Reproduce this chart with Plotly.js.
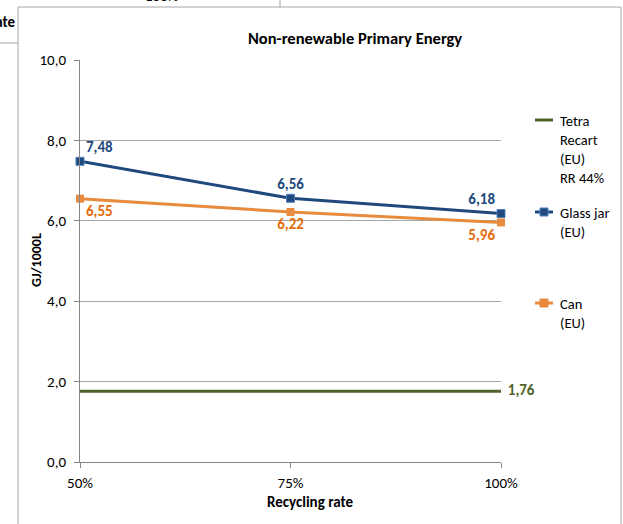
<!DOCTYPE html>
<html><head><meta charset="utf-8">
<script src="https://cdn.plot.ly/plotly-3.0.1.min.js"></script>
<style>html,body{margin:0;padding:0;background:#fff}</style>
</head><body><div id="chart" style="width:623px;height:524px"></div>
<script>
const categories = [50, 75, 100];
const categoryLabels = ['50%', '75%', '100%'];
const tetraRecart = [1.76, 1.76, 1.76];
const glassJar = [7.48, 6.56, 6.18];
const can = [6.55, 6.22, 5.96];
const legendNames = ['Tetra<br>Recart<br>(EU)<br>RR 44%', 'Glass jar<br>(EU)', 'Can<br>(EU)'];

const fmt = v => v.toFixed(2).replace('.', ',');
const FONT = 'Carlito, Lato, sans-serif';
const BLUE = '#1F497D', ORANGE = '#E46C0A', GREEN = '#4F6228';

// pixel -> paper helpers (plot area 80..501 x, 60..462 y)
const L = 80, R = 122, T = 60, B = 62, W = 623, H = 524;
const pw = W - L - R, ph = H - T - B;
const px = x => (x - L) / pw;
const py = y => (H - B - y) / ph;

const LBL = {size: 15, family: FONT, weight: 'bold'};
const traces = [
  {x: categories, y: tetraRecart, mode: 'lines+text', line: {color: GREEN, width: 3},
   text: tetraRecart.map((v, i) => i === tetraRecart.length - 1 ? '\u00a0\u00a0' + fmt(v) : ''),
   textposition: 'middle right', textfont: Object.assign({color: GREEN}, LBL),
   cliponaxis: false, showlegend: false, hoverinfo: 'none'},
  {x: categories, y: glassJar, mode: 'lines+markers+text', line: {color: BLUE, width: 3},
   marker: {symbol: 'square', size: 8, color: BLUE, line: {color: '#4F81BD', width: 1}},
   text: glassJar.map(fmt), textposition: ['top right', 'top center', 'top left'],
   textfont: Object.assign({color: BLUE}, LBL),
   cliponaxis: false, showlegend: false, hoverinfo: 'none'},
  {x: categories, y: can, mode: 'lines+markers+text', line: {color: '#E98B3E', width: 3},
   marker: {symbol: 'square', size: 8, color: '#E98B3E'},
   text: can.map(fmt), textposition: ['bottom right', 'bottom center', 'bottom left'],
   textfont: Object.assign({color: ORANGE}, LBL),
   cliponaxis: false, showlegend: false, hoverinfo: 'none'}
];

const legendColors = [GREEN, BLUE, '#E98B3E'];
const legendY = [120, 212, 303];
const shapes = [
  {type: 'rect', xref: 'paper', yref: 'paper', x0: px(18), x1: px(621), y0: py(7), y1: py(540),
   line: {color: '#A6A6A6', width: 1}, fillcolor: 'rgba(0,0,0,0)', layer: 'below'},
  {type: 'line', xref: 'paper', yref: 'paper', x0: px(0), x1: px(18), y0: py(43), y1: py(43), line: {color: '#A6A6A6', width: 1}},
  {type: 'line', xref: 'paper', yref: 'paper', x0: px(280), x1: px(280), y0: py(0), y1: py(7), line: {color: '#A6A6A6', width: 1}}
];
legendY.forEach((y, i) => {
  shapes.push({type: 'line', xref: 'paper', yref: 'paper', x0: px(535), x1: px(553), y0: py(y), y1: py(y),
               line: {color: legendColors[i], width: 3}});
  if (i > 0) shapes.push({type: 'rect', xref: 'paper', yref: 'paper', x0: px(540), x1: px(548), y0: py(y - 4), y1: py(y + 4),
               fillcolor: legendColors[i], line: {color: i === 1 ? '#4F81BD' : legendColors[i], width: 1}});
});

const ann = (text, x, y, size, extra) => Object.assign({text: text, xref: 'paper', yref: 'paper', x: px(x), y: py(y),
  xanchor: 'center', yanchor: 'middle', showarrow: false, font: {size: size, family: FONT, color: '#000'}}, extra || {});
const annotations = [
  ann('<b>Non-renewable Primary Energy</b>', 355, 38, 16.5),
  ann('<b>GJ/1000L</b>', 36, 260, 14, {textangle: -90}),
  ann('<b>Recycling rate</b>', 310, 502, 15),
  ann('<b>Recycling rate</b>', 17, 22, 15, {xanchor: 'right'}),
  ann('100%', 162, 7, 15, {yanchor: 'bottom'})
];
legendY.forEach((y, i) => {
  annotations.push(ann(legendNames[i], 558, y - 10, 14.5, {xanchor: 'left', yanchor: 'top', align: 'left'}));
});

const TF = {size: 15, family: FONT, color: '#000'};
const layout = {
  width: W, height: H, margin: {l: L, r: R, t: T, b: B},
  paper_bgcolor: '#fff', plot_bgcolor: '#fff', separators: ',.',
  font: {family: FONT, size: 13, color: '#000'},
  xaxis: {range: [50, 100], tickvals: categories, ticktext: categoryLabels, showgrid: false,
          showline: true, linecolor: '#868686', ticks: 'outside', ticklen: 5, tickcolor: '#868686',
          zeroline: false, fixedrange: true, tickfont: TF, ticklabelstandoff: 2},
  yaxis: {range: [0, 10], dtick: 2, tickformat: '.1f', showgrid: true, gridcolor: '#A6A6A6',
          showline: true, linecolor: '#868686', ticks: 'outside', ticklen: 5, tickcolor: '#868686',
          zeroline: false, fixedrange: true, tickfont: TF, ticklabelstandoff: 5},
  shapes: shapes, annotations: annotations, showlegend: false
};

Plotly.newPlot('chart', traces, layout, {displayModeBar: false, staticPlot: true});
</script></body></html>
